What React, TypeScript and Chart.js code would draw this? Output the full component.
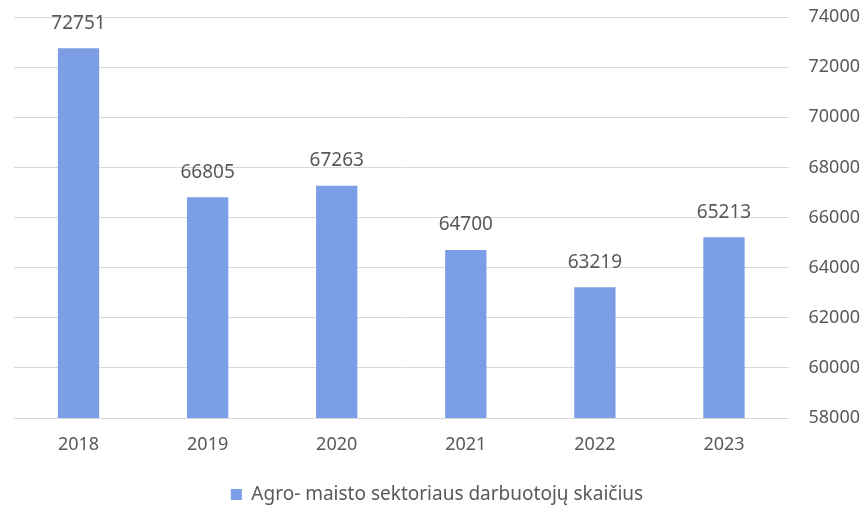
import React, { useEffect, useRef } from "react";
import { Chart, registerables } from "chart.js";
Chart.register(...registerables);

const categories = ["2018", "2019", "2020", "2021", "2022", "2023"];
const values = [72751, 66805, 67263, 64700, 63219, 65213];
const seriesName = "Agro- maisto sektoriaus darbuotojų skaičius";
const yMin = 58000;
const yMax = 74000;
const yStep = 2000;

const FONT = "'Noto Sans', 'Open Sans', sans-serif";
const TEXT = "#595959";

const labelPlugin = {
  id: "barLabels",
  afterDatasetsDraw(chart: any) {
    const ctx = chart.ctx;
    const meta = chart.getDatasetMeta(0);
    ctx.save();
    ctx.font = `19px ${FONT}`;
    ctx.fillStyle = TEXT;
    ctx.textAlign = "center";
    ctx.textBaseline = "middle";
    meta.data.forEach((el: any, i: number) => {
      ctx.fillText(String(values[i]), el.x, el.y - 25);
    });
    ctx.restore();
  },
};

export default function App() {
  const ref = useRef<HTMLCanvasElement>(null);
  useEffect(() => {
    if (!ref.current) return;
    const chart = new Chart(ref.current, {
      type: "bar",
      data: {
        labels: categories,
        datasets: [
          {
            label: seriesName,
            data: values,
            backgroundColor: "#7b9ee6",
            borderWidth: 0,
            barPercentage: 0.32,
            categoryPercentage: 1,
          },
        ],
      },
      options: {
        animation: false,
        responsive: true,
        maintainAspectRatio: false,
        layout: { padding: { left: 14, right: 7, top: 17, bottom: -8 } },
        plugins: {
          tooltip: { enabled: false },
          legend: {
            position: "bottom",
            labels: {
              boxWidth: 11,
              boxHeight: 11,
              color: TEXT,
              font: { family: FONT, size: 19 },
              padding: 1,
            },
          },
        },
        scales: {
          x: {
            grid: { display: false, drawTicks: false },
            border: { display: true, color: "#d9d9d9" },
            ticks: { color: TEXT, font: { family: FONT, size: 18 }, padding: 16 },
            afterFit: (scale: any) => {
              scale.height = 66;
            },
          },
          y: {
            position: "right",
            min: yMin,
            max: yMax,
            ticks: {
              stepSize: yStep,
              color: TEXT,
              font: { family: FONT, size: 18 },
              padding: 0,
              callback: (v: any) => String(v),
            },
            grid: { color: "#d9d9d9", drawTicks: true, tickLength: 20, tickColor: "rgba(0,0,0,0)" },
            border: { display: false },
          },
        },
      },
      plugins: [labelPlugin],
    });
    return () => chart.destroy();
  }, []);
  return (
    <div style={{ position: "fixed", left: 0, top: 0, width: 867, height: 506, background: "#fff" }}>
      <canvas ref={ref} />
    </div>
  );
}
